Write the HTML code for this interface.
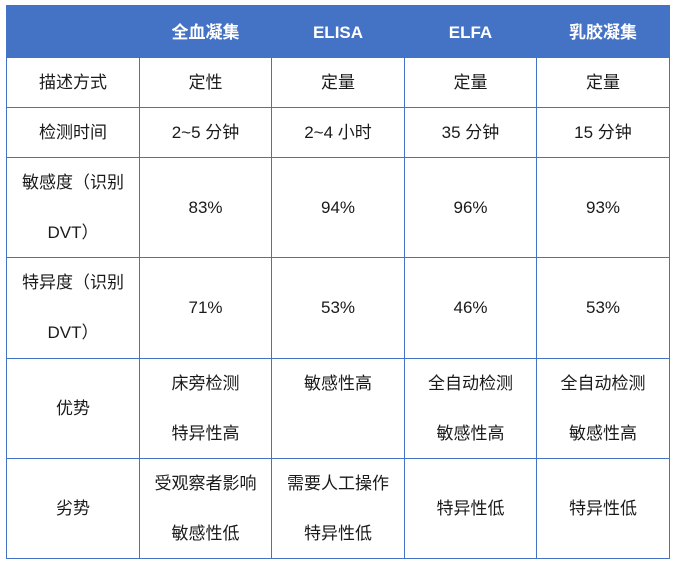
<!DOCTYPE html>
<html>
<head>
<meta charset="utf-8">
<style>
  html,body{margin:0;padding:0;background:#fff;}
  body{width:674px;height:563px;position:relative;overflow:hidden;
       font-family:"Liberation Sans","Noto Sans CJK SC",sans-serif;color:#1a1a1a;}
  .hdr{position:absolute;left:6px;top:5px;width:664px;height:52px;background:#4472C4;}
  .h{position:absolute;height:1px;background:#4472C4;}
  .v{position:absolute;width:1px;background:#4472C4;}
  .c{position:absolute;display:flex;align-items:center;justify-content:center;
     text-align:center;font-size:17px;line-height:50px;}
  .th{color:#fff;font-weight:bold;font-size:17px;}
</style>
</head>
<body>
<div class="hdr"></div>

<!-- horizontal lines -->
<div class="h" style="left:6px;top:57px;width:664px;"></div>
<div class="h" style="left:6px;top:107px;width:664px;"></div>
<div class="h" style="left:6px;top:157px;width:664px;"></div>
<div class="h" style="left:6px;top:257px;width:664px;"></div>
<div class="h" style="left:6px;top:358px;width:664px;"></div>
<div class="h" style="left:6px;top:458px;width:664px;"></div>
<div class="h" style="left:6px;top:558px;width:664px;"></div>

<!-- vertical lines -->
<div class="v" style="left:6px;top:57px;height:502px;"></div>
<div class="v" style="left:139px;top:57px;height:502px;"></div>
<div class="v" style="left:271px;top:57px;height:502px;"></div>
<div class="v" style="left:404px;top:57px;height:502px;"></div>
<div class="v" style="left:536px;top:57px;height:502px;"></div>
<div class="v" style="left:669px;top:5px;height:554px;"></div>

<!-- header -->
<div class="c th" style="left:139px;top:7px;width:133px;height:52px;">全血凝集</div>
<div class="c th" style="left:272px;top:7px;width:132px;height:52px;">ELISA</div>
<div class="c th" style="left:404px;top:7px;width:133px;height:52px;">ELFA</div>
<div class="c th" style="left:537px;top:7px;width:132px;height:52px;">乳胶凝集</div>

<!-- row 1 -->
<div class="c" style="left:7px;top:58px;width:132px;height:50px;">描述方式</div>
<div class="c" style="left:139px;top:58px;width:133px;height:50px;">定性</div>
<div class="c" style="left:272px;top:58px;width:132px;height:50px;">定量</div>
<div class="c" style="left:404px;top:58px;width:133px;height:50px;">定量</div>
<div class="c" style="left:537px;top:58px;width:132px;height:50px;">定量</div>

<!-- row 2 -->
<div class="c" style="left:7px;top:108px;width:132px;height:50px;">检测时间</div>
<div class="c" style="left:139px;top:108px;width:133px;height:50px;">2~5 分钟</div>
<div class="c" style="left:272px;top:108px;width:132px;height:50px;">2~4 小时</div>
<div class="c" style="left:404px;top:108px;width:133px;height:50px;">35 分钟</div>
<div class="c" style="left:537px;top:108px;width:132px;height:50px;">15 分钟</div>

<!-- row 3 -->
<div class="c" style="left:7px;top:158px;width:132px;height:100px;">敏感度（识别<br>DVT）</div>
<div class="c" style="left:139px;top:158px;width:133px;height:100px;">83%</div>
<div class="c" style="left:272px;top:158px;width:132px;height:100px;">94%</div>
<div class="c" style="left:404px;top:158px;width:133px;height:100px;">96%</div>
<div class="c" style="left:537px;top:158px;width:132px;height:100px;">93%</div>

<!-- row 4 -->
<div class="c" style="left:7px;top:258px;width:132px;height:100px;">特异度（识别<br>DVT）</div>
<div class="c" style="left:139px;top:258px;width:133px;height:100px;">71%</div>
<div class="c" style="left:272px;top:258px;width:132px;height:100px;">53%</div>
<div class="c" style="left:404px;top:258px;width:133px;height:100px;">46%</div>
<div class="c" style="left:537px;top:258px;width:132px;height:100px;">53%</div>

<!-- row 5 -->
<div class="c" style="left:7px;top:359px;width:132px;height:100px;">优势</div>
<div class="c" style="left:139px;top:359px;width:133px;height:100px;">床旁检测<br>特异性高</div>
<div class="c" style="left:272px;top:334px;width:132px;height:100px;">敏感性高</div>
<div class="c" style="left:404px;top:359px;width:133px;height:100px;">全自动检测<br>敏感性高</div>
<div class="c" style="left:537px;top:359px;width:132px;height:100px;">全自动检测<br>敏感性高</div>

<!-- row 6 -->
<div class="c" style="left:7px;top:459px;width:132px;height:100px;">劣势</div>
<div class="c" style="left:139px;top:459px;width:133px;height:100px;">受观察者影响<br>敏感性低</div>
<div class="c" style="left:272px;top:459px;width:132px;height:100px;">需要人工操作<br>特异性低</div>
<div class="c" style="left:404px;top:459px;width:133px;height:100px;">特异性低</div>
<div class="c" style="left:537px;top:459px;width:132px;height:100px;">特异性低</div>
</body>
</html>
